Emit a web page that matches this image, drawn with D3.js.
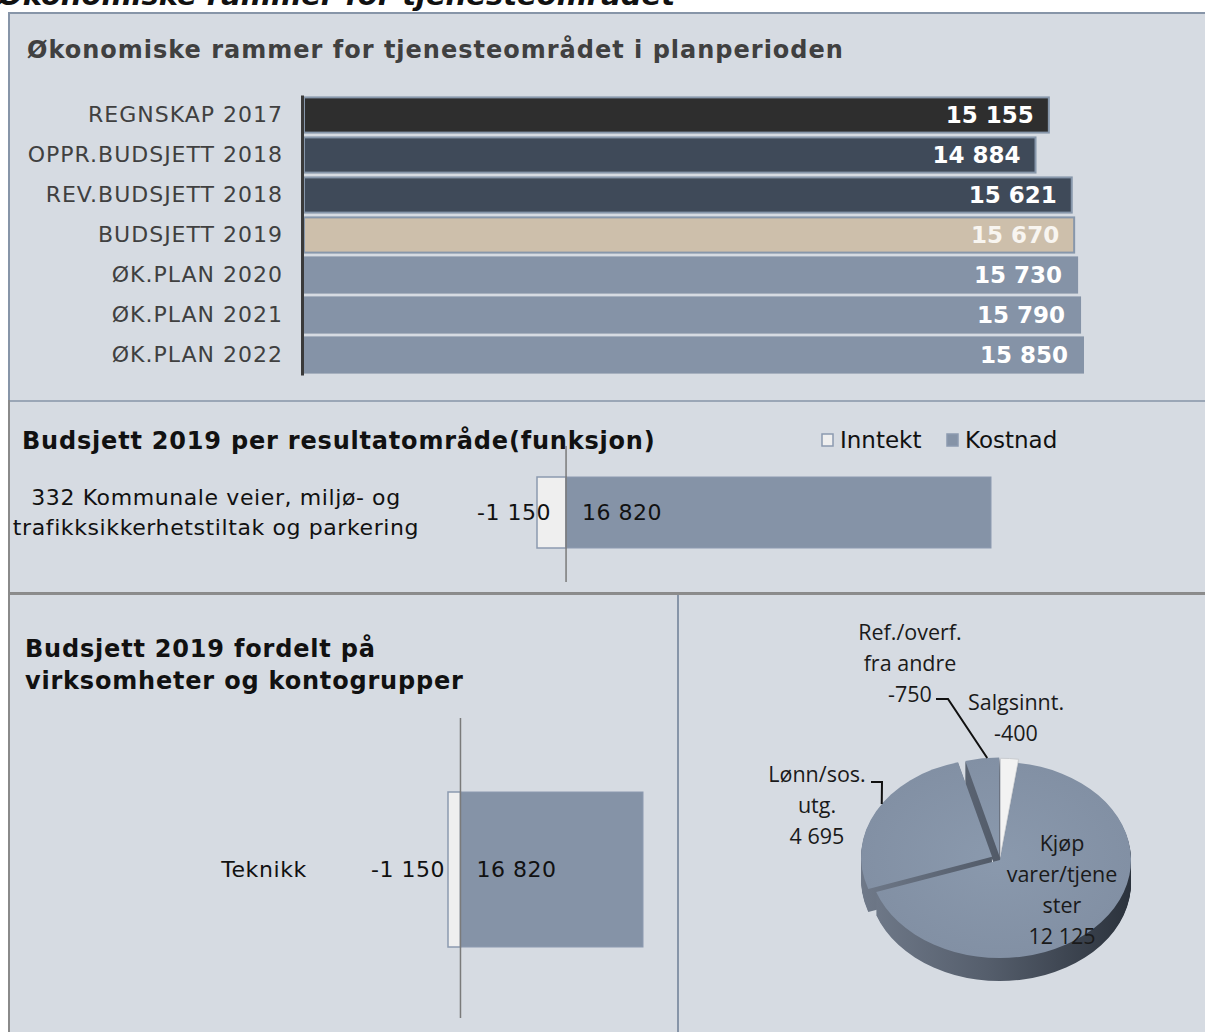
<!DOCTYPE html>
<html>
<head>
<meta charset="utf-8">
<script src="https://cdn.jsdelivr.net/npm/d3@7"></script>
<style>
  body { margin: 0; background: #fff; }
  svg text { font-family: "DejaVu Sans", Verdana, sans-serif; }
</style>
</head>
<body>
<div id="chart"></div>
<script>
// data
var rammeKategorier = ["REGNSKAP 2017", "OPPR.BUDSJETT 2018", "REV.BUDSJETT 2018", "BUDSJETT 2019",
                       "ØK.PLAN 2020", "ØK.PLAN 2021", "ØK.PLAN 2022"];
var rammeVerdier = [15155, 14884, 15621, 15670, 15730, 15790, 15850];

var resultatKategorier = ["332 Kommunale veier, miljø- og\ntrafikksikkerhetstiltak og parkering"];
var resultatInntekt = [-1150];
var resultatKostnad = [16820];

var virksomheter = ["Teknikk"];
var virksomhetInntekt = [-1150];
var virksomhetKostnad = [16820];

var kontogrupper = ["Salgsinnt.\n-400", "Kjøp\nvarer/tjene\nster\n12 125", "Lønn/sos.\nutg.\n4 695", "Ref./overf.\nfra andre\n-750"];
var kontoVerdier = [-400, 12125, 4695, -750];

var serier = ["Inntekt", "Kostnad"];

// styles
var rammeFarger = ["#2e2e2e", "#3f4a59", "#3f4a59", "#cdbfab", "#8593a7", "#8593a7", "#8593a7"];
var panelBg = "#d6dbe2", blaa = "#8593a7";

var nok = d3.formatLocale({decimal: ",", thousands: " ", grouping: [3], currency: ["", ""], minus: "-"}).format(",d");

var svg = d3.select("#chart").append("svg")
    .attr("width", 1205)
    .attr("height", 1032);

var defs = svg.append("defs");

// heading above the first panel, cut by the top edge as in the original
svg.append("text")
    .attr("x", -2)
    .attr("y", 5)
    .style("font-size", "29px")
    .style("font-weight", "bold")
    .style("font-style", "italic")
    .attr("fill", "#111")
    .text("Økonomiske rammer for tjenesteområdet");

// panels
svg.append("rect").attr("x", 9).attr("y", 13).attr("width", 1200).attr("height", 388)
    .attr("fill", panelBg).attr("stroke", "#8795a8").attr("stroke-width", 2);
svg.append("rect").attr("x", 9).attr("y", 401).attr("width", 1200).attr("height", 192)
    .attr("fill", panelBg).attr("stroke", "#8a8a8a").attr("stroke-width", 2);
svg.append("line").attr("x1", 10).attr("x2", 1205).attr("y1", 401).attr("y2", 401)
    .attr("stroke", "#9aa6b6").attr("stroke-width", 2);
svg.append("rect").attr("x", 9).attr("y", 594).attr("width", 669).attr("height", 440)
    .attr("fill", panelBg).attr("stroke", "#8a8a8a").attr("stroke-width", 2);
svg.append("rect").attr("x", 678).attr("y", 594).attr("width", 530).attr("height", 440)
    .attr("fill", panelBg).attr("stroke", "#8795a8").attr("stroke-width", 2);
svg.append("line").attr("x1", 10).attr("x2", 1205).attr("y1", 594).attr("y2", 594)
    .attr("stroke", "#8c8c8c").attr("stroke-width", 2);

// ---------- panel 1 ----------
var g1 = svg.append("g");

g1.append("text")
    .attr("x", 27)
    .attr("y", 58)
    .attr("fill", "#404040")
    .style("font-size", "24px")
    .style("font-weight", "bold")
    .style("letter-spacing", "1px")
    .text("Økonomiske rammer for tjenesteområdet i planperioden");

var x1 = d3.scaleLinear().domain([0, d3.max(rammeVerdier)]).range([304, 1083]);
var y1 = d3.scaleBand().domain(rammeKategorier).range([95, 375]).paddingInner(0.12).paddingOuter(0.06);
var c1 = d3.scaleOrdinal().domain(rammeKategorier).range(rammeFarger);

g1.selectAll(".ramme").data(rammeKategorier).enter().append("rect")
    .attr("class", "ramme")
    .attr("x", x1(0))
    .attr("y", function(d) { return y1(d); })
    .attr("width", function(d, i) { return x1(rammeVerdier[i]) - x1(0); })
    .attr("height", y1.bandwidth())
    .attr("fill", function(d) { return c1(d); })
    .attr("stroke", function(d, i) { return i < 4 ? "#8797ab" : "#8593a7"; })
    .attr("stroke-width", 2);

g1.selectAll(".rammeVerdi").data(rammeKategorier).enter().append("text")
    .attr("class", "rammeVerdi")
    .attr("x", function(d, i) { return x1(rammeVerdier[i]) - 15; })
    .attr("y", function(d) { return y1(d) + y1.bandwidth() / 2; })
    .attr("dy", "0.36em")
    .attr("text-anchor", "end")
    .attr("fill", function(d, i) { return i == 3 ? "#f8f5f0" : "#fff"; })
    .style("font-size", "23px")
    .style("font-weight", "bold")
    .text(function(d, i) { return nok(rammeVerdier[i]); });

var ax1 = g1.append("g")
    .attr("transform", "translate(302,0)")
    .call(d3.axisLeft(y1).tickSize(0).tickPadding(19));
ax1.select(".domain").attr("stroke", "#3a3a3a").attr("stroke-width", 3);
ax1.selectAll("text")
    .attr("fill", "#404040")
    .style("font-size", "22px")
    .style("letter-spacing", "1px")
    .style("font-family", "'DejaVu Sans', Verdana, sans-serif");

// ---------- shared: inntekt / kostnad bar ----------
function inntektKostnad(g, kat, inntekt, kostnad, xr, yr, lineY, innPad) {
  var x = d3.scaleLinear().domain([d3.min(inntekt), d3.max(kostnad)]).range(xr);
  var y = d3.scaleBand().domain(kat).range(yr);

  g.selectAll(".inntekt").data(kat).enter().append("rect")
      .attr("x", function(d, i) { return x(inntekt[i]); })
      .attr("y", function(d) { return y(d); })
      .attr("width", function(d, i) { return x(0) - x(inntekt[i]); })
      .attr("height", y.bandwidth())
      .attr("fill", "#efefef")
      .attr("stroke", "#8c9ab0")
      .attr("stroke-width", 1.5);

  g.selectAll(".kostnad").data(kat).enter().append("rect")
      .attr("x", x(0))
      .attr("y", function(d) { return y(d); })
      .attr("width", function(d, i) { return x(kostnad[i]) - x(0); })
      .attr("height", y.bandwidth())
      .attr("fill", blaa)
      .attr("stroke", "#8c9ab0")
      .attr("stroke-width", 1);

  g.append("line")
      .attr("x1", x(0)).attr("x2", x(0))
      .attr("y1", lineY[0]).attr("y2", lineY[1])
      .attr("stroke", "#7a7a7a")
      .attr("stroke-width", 1.5);

  g.selectAll(".innLabel").data(kat).enter().append("text")
      .attr("x", function(d, i) { return x(inntekt[i]) + innPad; })
      .attr("y", function(d) { return y(d) + y.bandwidth() / 2; })
      .attr("dy", "0.36em")
      .attr("text-anchor", "end")
      .attr("fill", "#111")
      .style("font-size", "22px")
      .style("letter-spacing", "0.5px")
      .text(function(d, i) { return nok(inntekt[i]); });

  g.selectAll(".kostLabel").data(kat).enter().append("text")
      .attr("x", x(0) + 16)
      .attr("y", function(d) { return y(d) + y.bandwidth() / 2; })
      .attr("dy", "0.36em")
      .attr("fill", "#111")
      .style("font-size", "22px")
      .style("letter-spacing", "0.5px")
      .text(function(d, i) { return nok(kostnad[i]); });

  return {x: x, y: y};
}

// ---------- panel 2 ----------
var g2 = svg.append("g");
g2.append("text")
    .attr("x", 22).attr("y", 449)
    .attr("fill", "#111")
    .style("font-size", "24px")
    .style("font-weight", "bold")
    .style("letter-spacing", "0.8px")
    .text("Budsjett 2019 per resultatområde(funksjon)");

var s2 = inntektKostnad(g2, resultatKategorier, resultatInntekt, resultatKostnad, [537, 991], [477, 548], [446, 582], 14);

g2.selectAll(".katLabel").data(resultatKategorier).enter().append("text")
    .attr("text-anchor", "middle")
    .attr("fill", "#111")
    .style("font-size", "22px")
    .style("letter-spacing", "0.6px")
    .each(function(d) {
      var lines = d.split("\n"), t = d3.select(this), cy = s2.y(d) + s2.y.bandwidth() / 2;
      lines.forEach(function(l, k) {
        t.append("tspan").attr("x", 216)
          .attr("y", cy + (k - (lines.length - 1) / 2) * 30)
          .attr("dy", "0.36em").text(l);
      });
    });

var leg = g2.selectAll(".leg").data(serier).enter().append("g")
    .attr("transform", function(d, i) { return "translate(" + (822 + i * 125) + ",434)"; });
leg.append("rect")
    .attr("width", 11).attr("height", 12)
    .attr("fill", function(d, i) { return i == 0 ? "#efefef" : blaa; })
    .attr("stroke", "#8c9ab0").attr("stroke-width", 1.5);
leg.append("text")
    .attr("x", 18).attr("y", 6).attr("dy", "0.36em")
    .attr("fill", "#111")
    .style("font-size", "23px")
    .text(function(d) { return d; });

// ---------- panel 3 ----------
var g3 = svg.append("g");
g3.append("text")
    .attr("fill", "#111")
    .style("font-size", "24px")
    .style("font-weight", "bold")
    .style("letter-spacing", "0.8px")
    .selectAll("tspan").data(["Budsjett 2019 fordelt på", "virksomheter og kontogrupper"]).enter()
    .append("tspan").attr("x", 25).attr("y", function(d, i) { return 657 + i * 32; })
    .text(function(d) { return d; });

var s3 = inntektKostnad(g3, virksomheter, virksomhetInntekt, virksomhetKostnad, [448, 643], [792, 947], [718, 1018], -3);

g3.selectAll(".virkLabel").data(virksomheter).enter().append("text")
    .attr("x", 264)
    .attr("y", function(d) { return s3.y(d) + s3.y.bandwidth() / 2; })
    .attr("dy", "0.36em")
    .attr("text-anchor", "middle")
    .attr("fill", "#111")
    .style("font-size", "22px")
    .style("letter-spacing", "0.6px")
    .text(function(d) { return d; });

// ---------- panel 4: 3d pie ----------
var cx = 1000, cy = 860, rx = 131, ry = 98, depth = 23;
var explode = [5, 0, 9, 6];
var labelPos = [[16, -158], [62, -17], [-183, -86], [-90, -228]];
var leaderStart = [null, null, [[-129, -78], [-118, -78]], [[-64, -161], [-52, -161]]];
var leaderAt = [0, 0, 0.55, 0.65];

var pie = d3.pie().sort(null).value(function(i) { return Math.abs(kontoVerdier[i]); });
var slices = pie(d3.range(kontoVerdier.length));
var arc = d3.arc().innerRadius(0).outerRadius(rx);
var k = ry / rx;

var sideGrad = defs.append("linearGradient").attr("id", "side")
    .attr("gradientUnits", "userSpaceOnUse")
    .attr("x1", -rx).attr("x2", rx).attr("y1", 0).attr("y2", 0);
sideGrad.append("stop").attr("offset", "0").attr("stop-color", "#6f7989");
sideGrad.append("stop").attr("offset", "0.45").attr("stop-color", "#555e6c");
sideGrad.append("stop").attr("offset", "1").attr("stop-color", "#2b323c");

var topGrad = defs.append("radialGradient").attr("id", "top")
    .attr("gradientUnits", "userSpaceOnUse")
    .attr("cx", 0).attr("cy", 0).attr("r", rx);
topGrad.append("stop").attr("offset", "0").attr("stop-color", "#8a99ad");
topGrad.append("stop").attr("offset", "1").attr("stop-color", "#8290a4");

function offs(s, i) {
  var m = (s.startAngle + s.endAngle) / 2;
  return [Math.sin(m) * explode[i], -Math.cos(m) * explode[i]];
}

var g4 = svg.append("g");
for (var dz = depth; dz >= 1; dz--) {
  g4.append("g")
      .attr("transform", "translate(" + cx + "," + (cy + dz) + ") scale(1," + k + ")")
    .selectAll("path").data(slices).enter().append("path")
      .attr("d", arc)
      .attr("transform", function(s, i) { var o = offs(s, i); return "translate(" + o[0] + "," + o[1] + ")"; })
      .attr("fill", function(s, i) { return kontoVerdier[i] == -400 ? "#bfc2c6" : "url(#side)"; });
}
g4.append("g")
    .attr("transform", "translate(" + cx + "," + cy + ") scale(1," + k + ")")
  .selectAll("path").data(slices).enter().append("path")
    .attr("d", arc)
    .attr("transform", function(s, i) { var o = offs(s, i); return "translate(" + o[0] + "," + o[1] + ")"; })
    .attr("fill", function(s, i) { return kontoVerdier[i] == -400 ? "#f2f2f2" : "url(#top)"; })
    .attr("stroke", function(s, i) { return kontoVerdier[i] == -400 ? "#c9ccd0" : "none"; })
    .attr("vector-effect", "non-scaling-stroke");

// leader lines to the slice edge
slices.forEach(function(s, i) {
  if (!leaderStart[i]) return;
  var a = s.startAngle + leaderAt[i] * (s.endAngle - s.startAngle), o = offs(s, i);
  var ex = cx + o[0] + Math.sin(a) * rx, ey = cy + (o[1] - Math.cos(a) * rx) * k;
  var p = leaderStart[i].map(function(q) { return [cx + q[0], cy + q[1]]; });
  p.push([ex, ey]);
  g4.append("path")
      .attr("d", d3.line()(p))
      .attr("fill", "none")
      .attr("stroke", "#111")
      .attr("stroke-width", 2);
});

g4.selectAll(".pieLabel").data(slices).enter().append("text")
    .attr("text-anchor", "middle")
    .attr("fill", "#1a1a1a")
    .style("font-size", "21.5px")
    .style("font-family", "'Open Sans', sans-serif")
    .each(function(s, i) {
      var t = d3.select(this);
      kontogrupper[i].split("\n").forEach(function(l, n) {
        t.append("tspan")
          .attr("x", cx + labelPos[i][0])
          .attr("y", cy + labelPos[i][1] + n * 31)
          .attr("dy", "0.36em")
          .text(l);
      });
    });
</script>
</body>
</html>
